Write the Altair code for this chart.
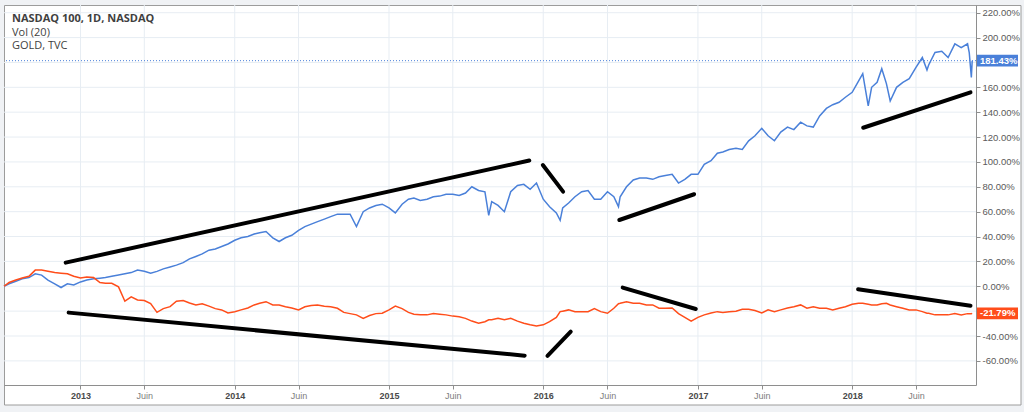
import altair as alt
import pandas as pd

# ---------------- data ----------------
dates = [
    "2012-07-04", "2012-07-16", "2012-08-01", "2012-08-16", "2012-09-01", "2012-09-16",
    "2012-10-01", "2012-10-16", "2012-11-01", "2012-11-16", "2012-12-01", "2012-12-16",
    "2013-01-01", "2013-01-16", "2013-02-01", "2013-02-16", "2013-03-01", "2013-03-16",
    "2013-04-01", "2013-04-16", "2013-05-01", "2013-05-16", "2013-06-01", "2013-06-16",
    "2013-07-01", "2013-07-16", "2013-08-01", "2013-08-16", "2013-09-01", "2013-09-16",
    "2013-10-01", "2013-10-16", "2013-11-01", "2013-11-16", "2013-12-01", "2013-12-16",
    "2014-01-01", "2014-01-16", "2014-02-01", "2014-02-16", "2014-03-01", "2014-03-16",
    "2014-04-01", "2014-04-16", "2014-05-01", "2014-05-16", "2014-06-01", "2014-06-16",
    "2014-07-01", "2014-07-16", "2014-08-01", "2014-08-16", "2014-09-01", "2014-09-16",
    "2014-10-01", "2014-10-16", "2014-11-01", "2014-11-16", "2014-12-01", "2014-12-16",
    "2015-01-01", "2015-01-16", "2015-02-01", "2015-02-16", "2015-03-01", "2015-03-16",
    "2015-04-01", "2015-04-16", "2015-05-01", "2015-05-16", "2015-06-01", "2015-06-16",
    "2015-07-01", "2015-07-16", "2015-08-01", "2015-08-16", "2015-08-25", "2015-09-01",
    "2015-09-16", "2015-10-01", "2015-10-16", "2015-11-01", "2015-11-16", "2015-12-01",
    "2015-12-16",
    "2016-01-01", "2016-01-16", "2016-02-01", "2016-02-10", "2016-02-16", "2016-03-01",
    "2016-03-16", "2016-04-01", "2016-04-16", "2016-05-01", "2016-05-16", "2016-06-01",
    "2016-06-16", "2016-06-27", "2016-07-01", "2016-07-16", "2016-08-01", "2016-08-16",
    "2016-09-01", "2016-09-16", "2016-10-01", "2016-10-16", "2016-11-01", "2016-11-16",
    "2016-12-01", "2016-12-16",
    "2017-01-01", "2017-01-16", "2017-02-01", "2017-02-16", "2017-03-01", "2017-03-16",
    "2017-04-01", "2017-04-16", "2017-05-01", "2017-05-16", "2017-06-01", "2017-06-16",
    "2017-07-01", "2017-07-16", "2017-08-01", "2017-08-16", "2017-09-01", "2017-09-16",
    "2017-10-01", "2017-10-16", "2017-11-01", "2017-11-16", "2017-12-01", "2017-12-16",
    "2018-01-01", "2018-01-16", "2018-01-26", "2018-02-08", "2018-02-16", "2018-03-01",
    "2018-03-12", "2018-03-23", "2018-04-01", "2018-04-16", "2018-05-01", "2018-05-16",
    "2018-06-01", "2018-06-16", "2018-06-27", "2018-07-01", "2018-07-16", "2018-08-01",
    "2018-08-16", "2018-09-01", "2018-09-16", "2018-10-01", "2018-10-05", "2018-10-10",
    "2018-10-12",
]

nasdaq_pct = [
    0, 2, 4, 6, 7, 10, 9, 5, 2, -1, 2, 1,
    3.5, 5, 6, 6.5, 7, 8, 9, 10, 11, 13, 12, 10.5,
    12, 14, 15.5, 17, 19, 22, 24, 26, 29, 30, 32, 34,
    37, 39, 40, 42, 43, 44, 39, 36, 39, 41, 45, 48,
    50, 52, 54, 56, 58, 58, 58, 48, 60, 63, 65, 66,
    63, 59, 66, 70, 71, 69, 70, 72, 72.5, 74, 74, 73,
    75, 80, 77, 76, 57, 68, 65, 60, 76, 81, 82, 78,
    83,
    70, 64, 59, 53, 63, 67, 72, 76, 77, 70, 70, 76,
    72, 64, 72, 80, 85.5, 87, 87, 86, 88, 89, 90, 83,
    86, 90,
    90, 98, 101, 107, 108, 110, 111, 110, 117, 121, 127, 121,
    117, 124, 128, 126, 132, 129, 128, 137, 143, 146, 148, 152,
    156, 165, 171, 145, 160, 164, 175, 163, 149, 160, 164, 167,
    176, 184, 174, 178, 188, 189, 184, 195, 192, 195, 188, 168,
    181.43,
]

gold_pct = [
    0, 3, 5, 6.6, 8, 13, 13, 12, 11, 10.5, 10, 8,
    6.6, 7.5, 7, 3, 2.5, 2.4, -0.5, -12, -8.5, -11, -11.5, -14,
    -21, -18, -16.4, -12, -11.5, -13.5, -15, -14, -16, -18, -19, -21.5,
    -20.5, -19, -17.5, -15, -13.7, -12.4, -15, -15, -16.4, -17.5, -19, -16.5,
    -15.5, -15, -16, -16.5, -17.7, -21, -22, -23, -25.8, -23.5, -22, -21.7,
    -19, -15.9, -18, -21, -22.5, -23, -23, -22, -22.5, -23, -24, -24.5,
    -25.8, -28, -29.8, -28.5, -27, -27, -25.8, -27, -25.8, -28, -29.8, -31,
    -32,
    -31, -28.5, -25, -20.4, -20, -19, -20.4, -20.4, -20.4, -18, -20.4, -21.7,
    -17.7, -14, -13.7, -12.4, -13.7, -13.7, -15, -15, -17.7, -17.7, -17.5, -22,
    -25, -28,
    -25, -23, -21.5, -20.4, -21, -20.4, -20, -18.5, -18.5, -19.5, -21.5, -19,
    -20.4, -19, -17.5, -16.4, -15, -17.7, -16.4, -17.7, -17.7, -19, -17.7, -16.4,
    -14.5, -13.7, -13.7, -14.5, -15, -15, -14, -13.7, -15, -16.4, -17.7, -19,
    -19, -20.4, -21.7, -21.7, -23, -23, -23, -22, -23, -22, -22, -22,
    -21.79,
]

series_names = ["NASDAQ 100", "GOLD"]
series_colors = ["#4a80d9", "#ff4d1a"]

# hand-drawn trend lines (start / end in data units)
trend_start = ["2012-11-27", "2015-12-31", "2016-06-29", "2018-01-27",
               "2012-12-04", "2016-01-11", "2016-07-07", "2018-01-15"]
trend_start_pct = [19.0, 97.5, 53.3, 127.5, -21.2, -56.0, -1.1, -2.4]
trend_end = ["2015-11-29", "2016-02-17", "2016-12-23", "2018-10-08",
             "2015-11-18", "2016-03-06", "2016-12-27", "2018-10-08"]
trend_end_pct = [101.1, 76.1, 74.0, 156.0, -55.8, -36.5, -18.3, -15.6]

legend_lines = ["NASDAQ 100, 1D, NASDAQ", "Vol (20)", "GOLD, TVC"]
x_ticks = ["2013-01-01", "2013-06-01", "2014-01-01", "2014-06-01", "2015-01-01", "2015-06-01",
           "2016-01-01", "2016-06-01", "2017-01-01", "2017-06-01", "2018-01-01", "2018-06-01"]
y_ticks = [-60, -40, -20, 0, 20, 40, 60, 80, 100, 120, 140, 160, 180, 200, 220]
x_domain = ["2012-07-04", "2018-10-21"]
y_domain = [-79.4, 226.2]

# ---------------- chart ----------------
assert len(dates) == len(nasdaq_pct) == len(gold_pct)


def ms(d):
    return int(pd.Timestamp(d, tz="UTC").timestamp() * 1000)


W, H = 972, 380
FONT = "Liberation Sans"
xs = alt.Scale(domain=[ms(d) for d in x_domain])
ys = alt.Scale(domain=y_domain, nice=False, zero=False)

n = len(dates)
df = pd.DataFrame({
    "date": dates * 2,
    "pct": nasdaq_pct + gold_pct,
    "series": [series_names[0]] * n + [series_names[1]] * n,
})

last_vals = [nasdaq_pct[-1], gold_pct[-1]]
# axis labels that sit under a last-value box are hidden by it, as in the reference
visible_y_ticks = [v for v in y_ticks if all(abs(v - lv) > 9 for lv in last_vals)]

is_year = "utcmonth(datum.value) == 0"
xaxis = alt.Axis(
    values=[ms(d) for d in x_ticks],
    labelExpr="utcmonth(datum.value) == 0 ? utcFormat(datum.value, '%Y') : 'Juin'",
    grid=False, title=None, zindex=1,
    domainColor="#8e8e8e", tickColor="#8e8e8e", tickSize=4, labelPadding=2,
    labelFont=FONT, labelFontSize=9,
    labelColor={"condition": {"test": is_year, "value": "#4a4a4a"}, "value": "#7d7d7d"},
    labelFontWeight={"condition": {"test": is_year, "value": "bold"}, "value": "normal"},
    labelOverlap=False, labelFlush=False,
)
yaxis = alt.Axis(
    orient="right", values=visible_y_ticks,
    labelExpr="(datum.value < 0 ? '-' : '') + format(abs(datum.value), '.2f') + '%'",
    grid=False, title=None, zindex=1,
    domainColor="#8e8e8e", tickColor="#8e8e8e", tickSize=4, labelPadding=2,
    labelFont=FONT, labelFontSize=9.5, labelColor="#5a5a5a",
    labelOverlap=False, labelFlush=False,
)

frame = alt.Chart(pd.DataFrame({"k": [0]})).mark_rect(
    fill="white", stroke="#9c9c9c", strokeWidth=1
).encode(x=alt.value(0.5), x2=alt.value(1017), y=alt.value(0.5), y2=alt.value(400))

vgrid = alt.Chart(pd.DataFrame({"d": x_ticks})).mark_rule(
    color="#e7edf3", strokeWidth=1
).encode(x=alt.X("d:T", scale=xs, axis=xaxis))

hgrid = alt.Chart(pd.DataFrame({"v": y_ticks})).mark_rule(
    color="#e7edf3", strokeWidth=1
).encode(y=alt.Y("v:Q", scale=ys, axis=yaxis))

last_df = pd.DataFrame({
    "series": series_names,
    "pct": last_vals,
    "label": [f"{v:.2f}%" for v in last_vals],
})
color_enc = alt.Color("series:N", scale=alt.Scale(domain=series_names, range=series_colors), legend=None)

dotted = alt.Chart(last_df).transform_filter(
    alt.datum.series == series_names[0]
).mark_rule(strokeDash=[1, 2], strokeWidth=1, color=series_colors[0]).encode(
    y=alt.Y("pct:Q", scale=ys, axis=yaxis)
)

lines = alt.Chart(df).mark_line(strokeWidth=1.5).encode(
    x=alt.X("date:T", scale=xs, axis=xaxis),
    y=alt.Y("pct:Q", scale=ys, axis=yaxis),
    color=color_enc,
)

trend_df = pd.DataFrame({
    "start": trend_start, "end": trend_end,
    "v0": trend_start_pct, "v1": trend_end_pct,
})
trends = alt.Chart(trend_df).mark_rule(
    strokeWidth=4, strokeCap="round", color="black"
).encode(
    x=alt.X("start:T", scale=xs, axis=xaxis), x2="end:T",
    y=alt.Y("v0:Q", scale=ys, axis=yaxis), y2="v1:Q",
)

boxes = alt.Chart(last_df).transform_calculate(
    lo="datum.pct - 4.7", hi="datum.pct + 4.7"
).mark_rect().encode(
    x=alt.value(W), x2=alt.value(W + 42),
    y=alt.Y("lo:Q", scale=ys, axis=yaxis), y2="hi:Q",
    color=color_enc,
)
box_text = alt.Chart(last_df).mark_text(
    align="left", baseline="middle", color="white", fontWeight="bold",
    font=FONT, fontSize=9.5
).encode(
    x=alt.value(W + 4),
    y=alt.Y("pct:Q", scale=ys, axis=yaxis),
    text="label:N",
)

legend_layers = []
for txt, yy, wt in zip(legend_lines, [13.5, 28, 41], ["bold", "normal", "normal"]):
    legend_layers.append(
        alt.Chart(pd.DataFrame({"t": [txt]})).mark_text(
            align="left", baseline="middle", font="Open Sans", fontSize=11,
            fontWeight=wt, color="#3f3f3f"
        ).encode(x=alt.value(8), y=alt.value(yy), text="t:N")
    )

chart = alt.layer(
    frame, vgrid, hgrid, dotted, lines, trends, boxes, box_text, *legend_layers
).properties(
    width=W, height=H,
    padding={"left": 4, "top": 5, "right": 48, "bottom": 27},
    autosize=alt.AutoSizeParams(type="none"),
    background="#f0f2f5",
).configure_view(strokeWidth=0)

chart.save("out.html", embed_options={"renderer": "svg", "actions": False})
